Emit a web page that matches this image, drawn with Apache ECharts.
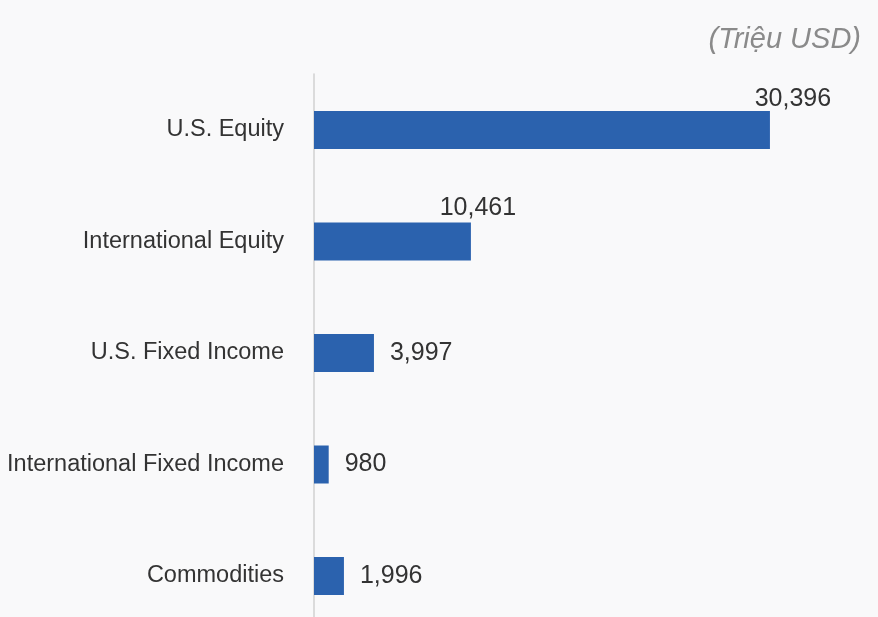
<!DOCTYPE html>
<html><head><meta charset="utf-8">
<script src="https://cdn.jsdelivr.net/npm/echarts@6/dist/echarts.min.js"></script>
<style>html,body{margin:0;padding:0;background:#f9f9fa}#c{width:878px;height:617px}</style>
</head><body><div id="c"></div>
<script>
const categories = ["U.S. Equity","International Equity","U.S. Fixed Income","International Fixed Income","Commodities"];
const values = [30396, 10461, 3997, 980, 1996];
const unitLabel = "(Triệu USD)";

const labelCfg = [
  {position:['100%',-24], offset:[23,0], align:'center'},
  {position:['100%',-27], offset:[7,0], align:'center'},
  null, null, null
];
const data = values.map((v,i)=>{
  const d = {value:v};
  if(labelCfg[i]) d.label = labelCfg[i];
  return d;
});
const chart = echarts.init(document.getElementById('c'));
chart.setOption({
  backgroundColor:'#f9f9fa',
  animation:false,
  title:{text:unitLabel, right:12, top:20, textStyle:{fontFamily:'Liberation Sans, Arial', fontStyle:'italic', fontWeight:'normal', fontSize:29, color:'#8a8a8a'}},
  grid:[{left:314, width:525, top:130, bottom:41},{left:314, width:525, top:74, bottom:0}],
  xAxis:[{type:'value', min:0, max:35000, show:false, gridIndex:0},{type:'value', show:false, gridIndex:1}],
  yAxis:[{type:'category', data:categories, inverse:true, boundaryGap:false, gridIndex:0,
    axisLine:{show:false}, axisTick:{show:false}, splitLine:{show:false},
    axisLabel:{fontFamily:'Liberation Sans, Arial', fontSize:23.5, color:'#333', margin:30}},
    {type:'category', data:[''], gridIndex:1, axisLine:{lineStyle:{color:'#d0d0d0', width:1.5}}, axisTick:{show:false}, axisLabel:{show:false}}],
  series:[{type:'bar', data:data, barWidth:38, itemStyle:{color:'#2b62ae'},
    label:{show:true, position:'right', distance:16, fontFamily:'Liberation Sans, Arial', fontSize:25, color:'#333',
      formatter:p=>p.value.toLocaleString('en-US')}}]
});
</script></body></html>
